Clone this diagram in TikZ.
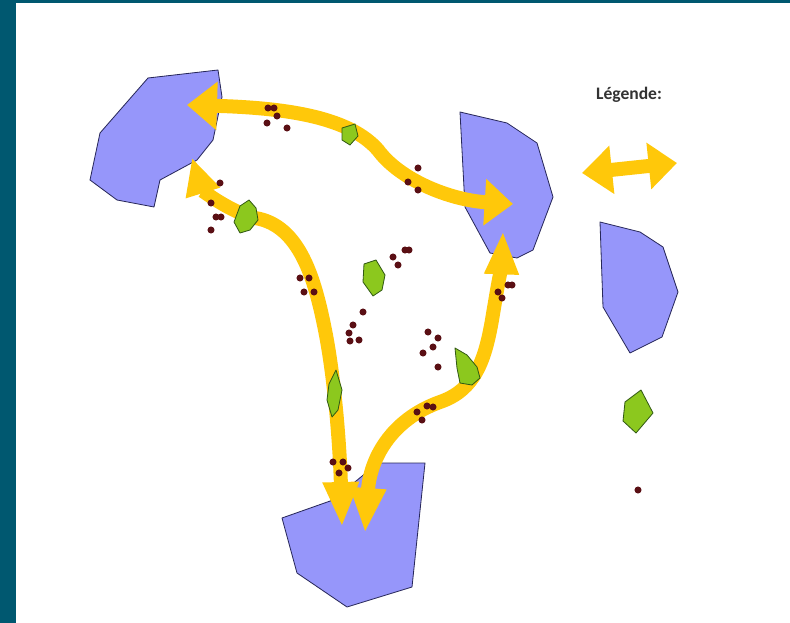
\documentclass[tikz,border=0pt]{standalone}
\usepackage{fontspec}
\setmainfont{Carlito}
\usetikzlibrary{arrows.meta}
\definecolor{frame}{RGB}{0,88,112}
\definecolor{isle}{RGB}{150,150,250}
\definecolor{isleline}{RGB}{40,40,90}
\definecolor{route}{RGB}{255,200,10}
\definecolor{patch}{RGB}{140,200,30}
\definecolor{patchline}{RGB}{50,90,20}
\definecolor{seed}{RGB}{90,15,20}
\tikzset{
  island/.style={fill=isle,draw=isleline,line width=0.7pt,line join=round},
  habitat/.style={fill=patch,draw=patchline,line width=0.7pt,line join=round},
  corridor/.style={draw=route,line width=0.42cm},
  wide/.style={{Triangle[length=0.9cm,width=1.4cm]}-{Triangle[length=0.85cm,width=1.35cm]}},
  long/.style={{Triangle[length=1.35cm,width=1.0cm]}-{Triangle[length=1.3cm,width=0.95cm]}},
  seedling/.style={fill=seed}
}
\begin{document}
\begin{tikzpicture}[x=0.03cm,y=-0.03cm]
            \useasboundingbox (0,0) rectangle (790,623);
            \fill[white] (0,0) rectangle (790,623);
            \fill[frame] (0,0) rectangle (16,623);
            \fill[frame] (0,0) rectangle (790,3);
            \draw[island] (148,78) -- (218,70) -- (222,97) -- (213,140) -- (197,160) -- (160,180)
                -- (154,207) -- (117,200) -- (90,180) -- (100,133) -- cycle;
            \draw[island] (460,112) -- (507,123) -- (537,143) -- (553,197) -- (533,250) -- (517,258)
                -- (490,253) -- (465,207) -- cycle;
            \draw[island] (282,518) -- (333,500) -- (367,472) -- (380,463) -- (425,463) -- (412,587)
                -- (347,607) -- (297,573) -- cycle;
            \draw[island] (600,222) -- (640,232) -- (663,247) -- (678,292) -- (662,337) -- (630,353)
                -- (603,307) -- cycle;
            \coordinate (westA) at (187,105);
            \coordinate (eastA) at (513,204);
            \coordinate (westB) at (192,158);
            \coordinate (southB) at (342,527);
            \coordinate (southC) at (365,533);
            \coordinate (eastC) at (503,231);
            \coordinate (keyL) at (582,173);
            \coordinate (keyR) at (677,163);
            \draw[corridor,wide] (westA) .. controls (290,108) and (350,118) .. (378,150)
                .. controls (400,180) and (450,200) .. (eastA);
            \draw[corridor,{Triangle[length=1.1cm,width=1.0cm]}-{Triangle[length=1.35cm,width=1.0cm]}]
                (westB) .. controls (202,190) and (230,212) .. (255,218)
                .. controls (300,225) and (315,280) .. (325,330)
                .. controls (335,380) and (340,450) .. (southB);
            \draw[corridor,long] (southC) .. controls (370,460) and (390,420) .. (440,402)
                .. controls (475,390) and (485,360) .. (492,320)
                .. controls (497,290) and (502,260) .. (eastC);
            \draw[corridor,wide] (keyL) -- (keyR);
            \draw[habitat] (342,128) -- (355,124) -- (358,136) -- (350,145) -- (342,140) -- cycle;
            \draw[habitat] (240,206) -- (249,200) -- (256,208) -- (258,220) -- (250,230) -- (240,233)
                -- (234,222) -- cycle;
            \draw[habitat] (364,264) -- (376,260) -- (385,275) -- (382,290) -- (373,296) -- (363,282) -- cycle;
            \draw[habitat] (336,370) -- (342,390) -- (338,410) -- (332,417) -- (327,400) -- (329,384) -- cycle;
            \draw[habitat] (455,348) -- (467,355) -- (477,367) -- (480,378) -- (472,385) -- (460,383)
                -- (457,368) -- cycle;
            \draw[habitat] (641,390) -- (653,413) -- (636,433) -- (623,421) -- (625,402) -- cycle;
            \foreach \p in {(268,108),(274,108),(277,116),(267,123),(287,128),
                (220,183),(211,203),(216,217),(221,217),(211,230),
                (300,278),(309,278),(304,292),(314,292),
                (418,168),(408,182),(418,190),
                (405,250),(409,250),(393,257),(398,265),
                (363,312),(353,325),(349,333),(350,341),(359,340),
                (428,332),(438,338),(433,347),(423,353),(438,367),
                (417,412),(422,420),(427,406),(433,407),
                (333,462),(343,462),(348,468),(339,473),
                (508,285),(512,285),(498,292),(502,298),
                (638,490)}
                \fill[seedling] \p circle (3pt);
            \node[font=\bfseries\fontsize{15}{18}\selectfont,text=black!80] (key) at (629,95) {Légende:};
        \end{tikzpicture}
\end{document}
